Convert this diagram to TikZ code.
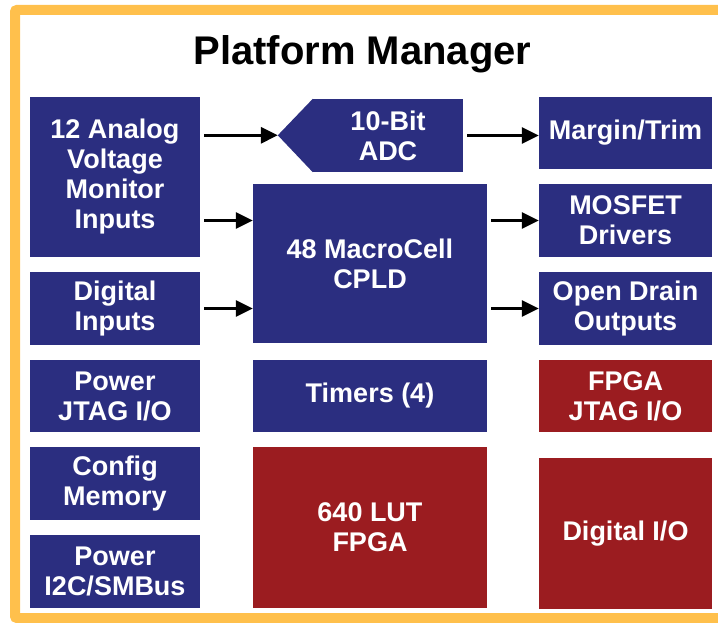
\documentclass[tikz,border=0pt]{standalone}
\usepackage{fontspec}
\setmainfont{Liberation Sans}
\usetikzlibrary{arrows.meta,positioning}
\definecolor{pmblue}{RGB}{43,46,128}
\definecolor{pmred}{RGB}{155,28,32}
\definecolor{pmframe}{RGB}{255,192,76}

\begin{document}
\begin{tikzpicture}[x=1pt,y=-1pt,
  blk/.style={fill=pmblue,text=white,inner sep=0pt,align=center,
    font=\fontsize{27}{30}\selectfont\bfseries,minimum height=72.5},
  lbox/.style={blk,minimum width=170},
  mbox/.style={blk,minimum width=234},
  rbox/.style={blk,minimum width=173},
  pmarrow/.style={line width=3pt,-{Triangle[length=17pt,width=16pt]},shorten <=4pt}]
\useasboundingbox (0,0) rectangle (718,623);
\draw[pmframe,line width=10pt,rounded corners=2pt] (15,10) rectangle (740,618);

\node[font=\fontsize{40}{48}\selectfont\bfseries,anchor=base] (title) at (362.5,65) {Platform Manager};

% left column
\node[lbox,minimum height=160] (ana) at (115,177) {12 Analog\\Voltage\\Monitor\\Inputs};
\node[lbox] (dig) at (115,308.5) {Digital\\Inputs};
\node[lbox] (pjtag) at (115,396) {Power\\JTAG I/O};
\node[lbox] (cfg) at (115,483.5) {Config\\Memory};
\node[lbox] (smb) at (115,571.5) {Power\\I2C/SMBus};

% middle column
\node[blk,minimum width=150,minimum height=73] (adc) at (388,135.5) {10-Bit\\ADC\hspace*{0pt}};
\fill[pmblue] (adc.north west) -- ++(-35,36.5) coordinate (adctip) -- (adc.south west) -- cycle;
\node[mbox,minimum height=159] (cpld) at (370,263.5) {48 MacroCell\\CPLD};
\node[mbox] (tim) at (370,396) {Timers (4)};
\node[mbox,fill=pmred,minimum height=161] (fpga) at (370,527.5) {640 LUT\\FPGA};

% right column
\node[rbox] (mt) at (625.5,133) {Margin/Trim};
\node[rbox] (mos) at (625.5,220.5) {MOSFET\\Drivers};
\node[rbox] (od) at (625.5,308.5) {Open Drain\\Outputs};
\node[rbox,fill=pmred] (fjtag) at (625.5,396) {FPGA\\JTAG I/O};
\node[rbox,fill=pmred,minimum height=151] (dio) at (625.5,533.5) {Digital I/O};

\draw[pmarrow] (ana.east |- adctip) -- (adctip);
\draw[pmarrow] (adc.east) -- (mt.west |- adc);
\draw[pmarrow] (ana.east |- mos) -- (cpld.west |- mos);
\draw[pmarrow] (dig.east) -- (cpld.west |- dig);
\draw[pmarrow] (cpld.east |- mos) -- (mos.west);
\draw[pmarrow] (cpld.east |- od) -- (od.west);
\end{tikzpicture}
\end{document}
